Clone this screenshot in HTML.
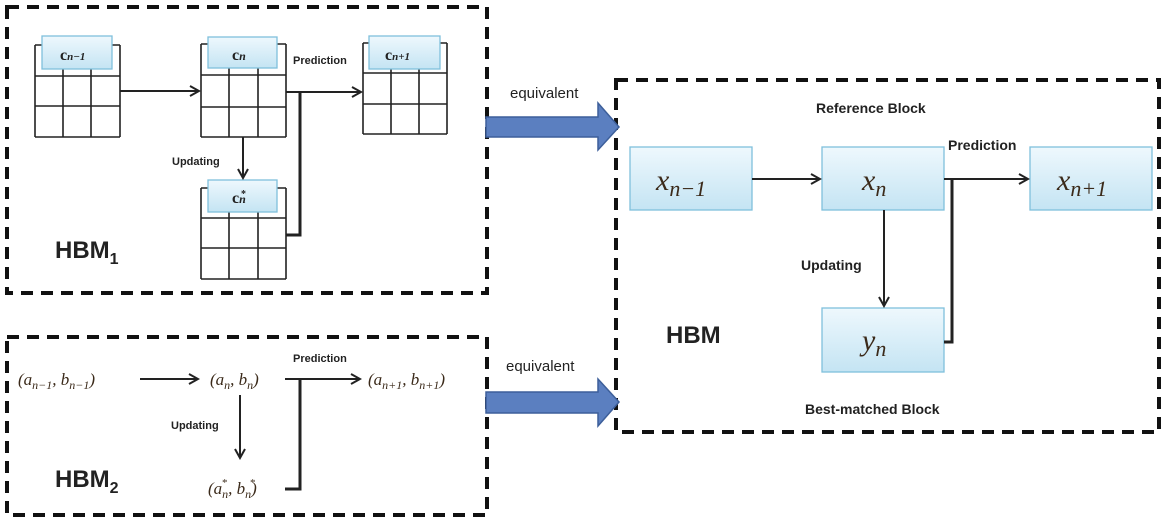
<!DOCTYPE html>
<html><head><meta charset="utf-8"><style>
body{margin:0;background:#fff;width:1163px;height:521px;overflow:hidden}
svg{display:block}
.m{font-family:"Liberation Serif",serif;font-style:italic;fill:#3b2a1a}
.b{font-family:"Liberation Sans",sans-serif;font-weight:bold;fill:#222}
</style></head><body>
<svg width="1163" height="521" viewBox="0 0 1163 521">
<defs>
<linearGradient id="g" x1="0" y1="0" x2="0" y2="1"><stop offset="0" stop-color="#eef8fd"/><stop offset="1" stop-color="#c4e4f3"/></linearGradient>
<marker id="a" markerWidth="12" markerHeight="12" refX="10" refY="6" orient="auto" markerUnits="userSpaceOnUse"><path d="M1,1 L10,6 L1,11" fill="none" stroke="#222" stroke-width="2"/></marker>
</defs>
<g fill="none" stroke="#111" stroke-width="4" stroke-dasharray="12,8">
<rect x="7" y="7" width="480" height="286"/>
<rect x="7" y="337" width="480" height="178"/>
<rect x="616" y="80" width="543" height="352"/>
</g>
<g stroke="#222" stroke-width="1.6" fill="none">
<path d="M35,45V137M63,69V137M91,69V137M120,45V137M35,76H120M35,106H120M35,137H120M35,45H42M112,45H120"/>
<path d="M201,44V137M229,68V137M258,68V137M286,44V137M201,75H286M201,107H286M201,137H286M201,44H208M277,44H286"/>
<path d="M363,43V134M391,69V134M419,69V134M447,43V134M363,73H447M363,104H447M363,134H447M363,43H369M440,43H447"/>
<path d="M201,188V279M229,212V279M258,212V279M286,188V279M201,218H286M201,248H286M201,279H286M201,188H208M277,188H286"/>
</g>
<g fill="url(#g)" stroke="#7fc0dc" stroke-width="1.3">
<rect x="42" y="36" width="70" height="33"/><rect x="208" y="37" width="69" height="31"/>
<rect x="369" y="36" width="71" height="33"/><rect x="208" y="180" width="69" height="32"/>
<rect x="630" y="147" width="122" height="63"/><rect x="822" y="147" width="122" height="63"/>
<rect x="1030" y="147" width="122" height="63"/><rect x="822" y="308" width="122" height="64"/>
</g>
<g font-family="Liberation Serif,serif" font-weight="bold" fill="#222" font-size="16">
<text x="60" y="60">c<tspan font-size="11" font-style="italic">n−1</tspan></text>
<text x="232" y="60">c<tspan font-size="12" font-style="italic">n</tspan></text>
<text x="385" y="60">c<tspan font-size="11" font-style="italic">n+1</tspan></text>
<text x="232" y="203">c<tspan font-size="12" font-style="italic">n</tspan></text>
<text x="241" y="197" font-size="10">*</text>
</g>
<g stroke="#222" stroke-width="2" fill="none">
<path d="M120,91H199" marker-end="url(#a)"/>
<path d="M286,92H361" marker-end="url(#a)"/>
<path d="M300,92V235H286" stroke-width="3"/>
<path d="M243,137V178" marker-end="url(#a)"/>
<path d="M140,379H198" marker-end="url(#a)"/>
<path d="M285,379H360" marker-end="url(#a)"/>
<path d="M300,379V489H285" stroke-width="3"/>
<path d="M240,395V458" marker-end="url(#a)"/>
<path d="M752,179H820" marker-end="url(#a)"/>
<path d="M944,179H1028" marker-end="url(#a)"/>
<path d="M952,179V342H944" stroke-width="3"/>
<path d="M884,210V306" marker-end="url(#a)"/>
</g>
<text class="b" x="293" y="64" font-size="11">Prediction</text>
<text class="b" x="172" y="165" font-size="11">Updating</text>
<text class="b" x="293" y="362" font-size="11">Prediction</text>
<text class="b" x="171" y="429" font-size="11">Updating</text>
<text class="b" x="55" y="258" font-size="24">HBM<tspan font-size="16" dy="6">1</tspan></text>
<text class="b" x="55" y="487" font-size="24">HBM<tspan font-size="16" dy="6">2</tspan></text>
<text class="b" x="666" y="343" font-size="24">HBM</text>
<text class="b" x="816" y="113" font-size="14">Reference Block</text>
<text class="b" x="805" y="414" font-size="14">Best-matched Block</text>
<text class="b" x="948" y="150" font-size="14">Prediction</text>
<text class="b" x="801" y="270" font-size="14">Updating</text>
<text x="510" y="98" font-family="Liberation Sans,sans-serif" font-size="15" fill="#222">equivalent</text>
<text x="506" y="371" font-family="Liberation Sans,sans-serif" font-size="15" fill="#222">equivalent</text>
<g fill="#5b7fc0" stroke="#3d5f9a" stroke-width="1.5">
<path d="M486,117H598V103L619,127L598,150V137H486Z"/>
<path d="M486,392H598V379L619,402L598,426V413H486Z"/>
</g>
<g class="m" font-size="30">
<text x="656" y="190">x<tspan font-size="22" dy="6">n−1</tspan></text>
<text x="862" y="190">x<tspan font-size="22" dy="6">n</tspan></text>
<text x="1057" y="190">x<tspan font-size="22" dy="6">n+1</tspan></text>
<text x="862" y="350">y<tspan font-size="22" dy="6">n</tspan></text>
</g>
<g class="m" font-size="17">
<text x="18" y="385">(a<tspan font-size="12" dy="4">n−1</tspan><tspan dy="-4">, b</tspan><tspan font-size="12" dy="4">n−1</tspan><tspan dy="-4">)</tspan></text>
<text x="210" y="385">(a<tspan font-size="12" dy="4">n</tspan><tspan dy="-4">, b</tspan><tspan font-size="12" dy="4">n</tspan><tspan dy="-4">)</tspan></text>
<text x="368" y="385">(a<tspan font-size="12" dy="4">n+1</tspan><tspan dy="-4">, b</tspan><tspan font-size="12" dy="4">n+1</tspan><tspan dy="-4">)</tspan></text>
<text x="208" y="494">(a<tspan font-size="12" dy="4">n</tspan><tspan dy="-4">, b</tspan><tspan font-size="12" dy="4">n</tspan><tspan dy="-4">)</tspan></text>
<text x="222" y="486" font-size="11" font-style="normal">*</text>
<text x="250" y="486" font-size="11" font-style="normal">*</text>
</g>
</svg>
</body></html>
